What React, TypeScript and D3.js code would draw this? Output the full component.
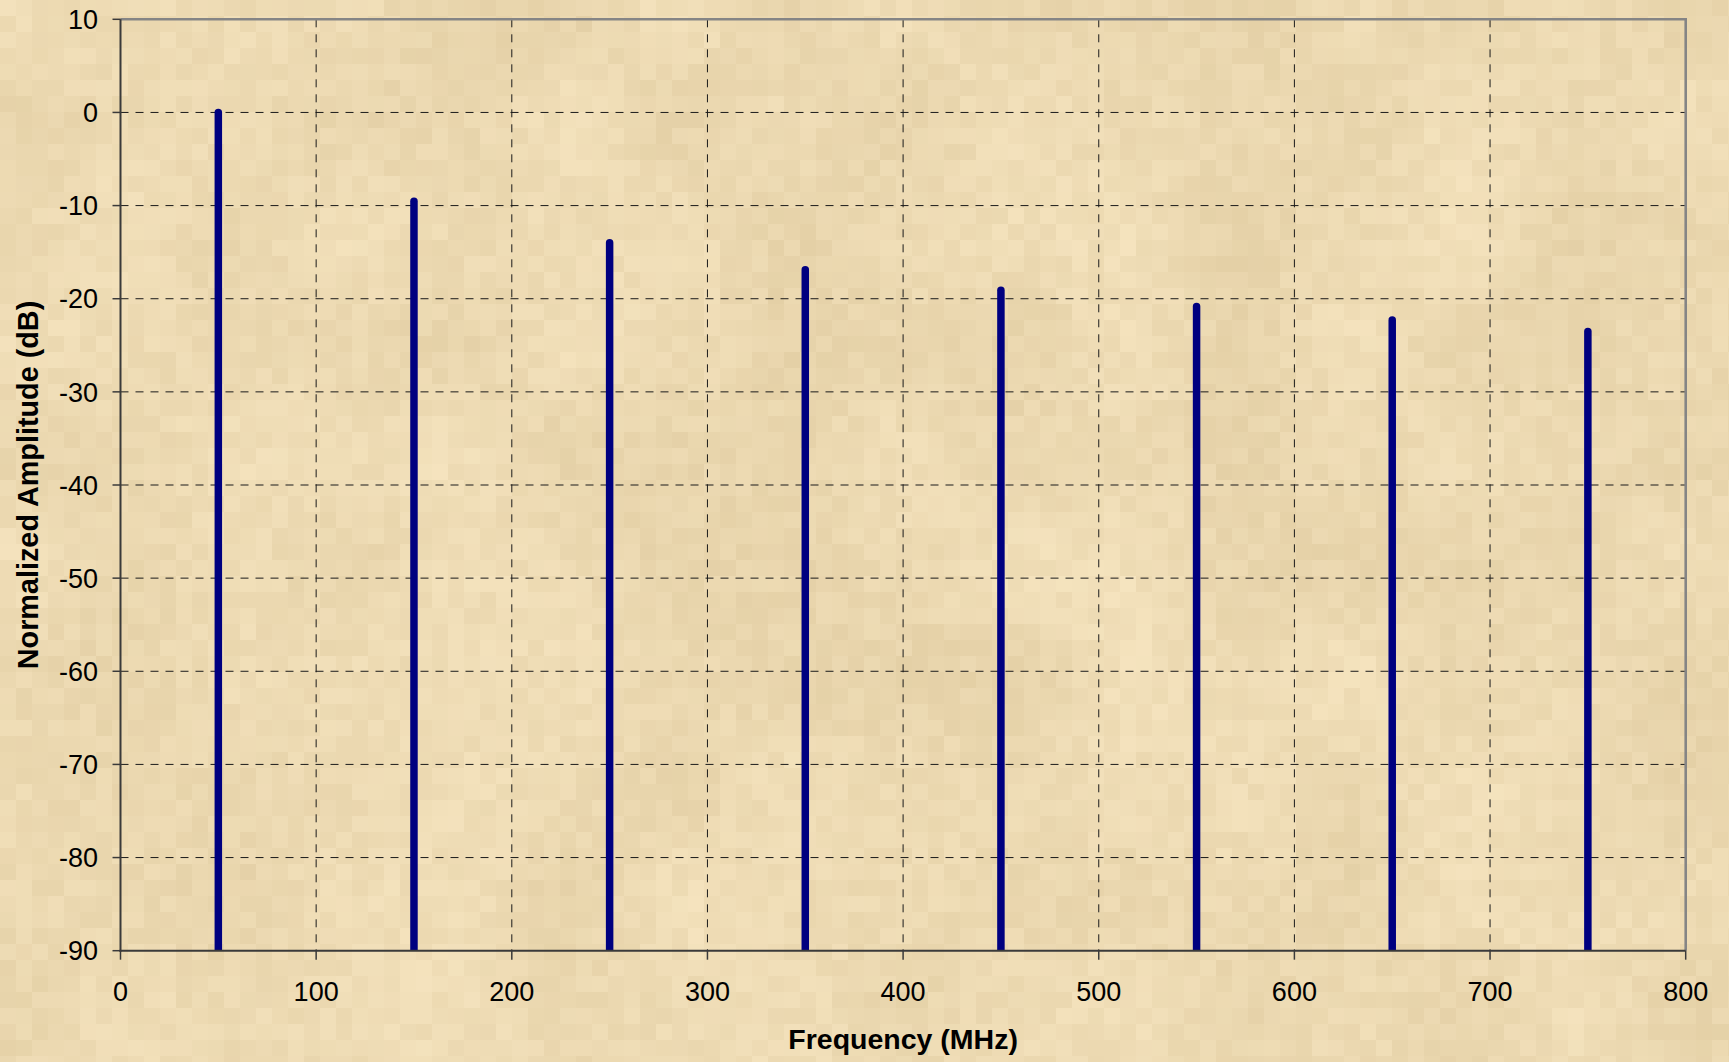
import React, { useMemo } from "react";
import * as d3 from "d3";

// Harmonic spectrum of a 50 MHz square wave (normalized to the fundamental)
const frequencies = [50, 150, 250, 350, 450, 550, 650, 750];
const amplitudes = [0, -9.54, -13.98, -16.9, -19.08, -20.83, -22.28, -23.52];
const xTicks = [0, 100, 200, 300, 400, 500, 600, 700, 800];
const yTicks = [10, 0, -10, -20, -30, -40, -50, -60, -70, -80, -90];

const W = 1729;
const H = 1062;
const M = { left: 120.5, right: 1685.7, top: 19.3, bottom: 950.7 };
const FONT = "'Liberation Sans', Arial, Helvetica, sans-serif";

// deterministic hash for the parchment mosaic
function hash(i: number, j: number) {
  const s = Math.sin(i * 127.1 + j * 311.7) * 43758.5453;
  return s - Math.floor(s);
}

function smooth(i: number, j: number, size: number) {
  const gi = Math.floor(i / size);
  const gj = Math.floor(j / size);
  const fi = (i % size) / size;
  const fj = (j % size) / size;
  const a = hash(gi + 57, gj + 13);
  const b = hash(gi + 58, gj + 13);
  const c = hash(gi + 57, gj + 14);
  const d = hash(gi + 58, gj + 14);
  const u = fi * fi * (3 - 2 * fi);
  const v = fj * fj * (3 - 2 * fj);
  return a * (1 - u) * (1 - v) + b * u * (1 - v) + c * (1 - u) * v + d * u * v;
}

function Parchment() {
  const cells = useMemo(() => {
    const size = 16;
    const light = d3.rgb("#f9e8c4");
    const dark = d3.rgb("#ddc89c");
    const interp = d3.interpolateRgb(light, dark);
    const out: { x: number; y: number; c: string }[] = [];
    for (let j = 0; j * size < H; j++) {
      for (let i = 0; i * size < W; i++) {
        const t = 0.55 * smooth(i, j, 7) + 0.45 * hash(i, j);
        out.push({ x: i * size, y: j * size, c: interp(0.12 + 0.66 * t) });
      }
    }
    return out;
  }, []);
  return (
    <g shapeRendering="crispEdges">
      {cells.map((d, k) => (
        <rect key={k} x={d.x} y={d.y} width={16} height={16} fill={d.c} />
      ))}
    </g>
  );
}

export default function App() {
  const x = d3.scaleLinear().domain([0, 800]).range([M.left, M.right]);
  const y = d3.scaleLinear().domain([-90, 10]).range([M.bottom, M.top]);
  const stem = d3.line<[number, number]>().x((d) => x(d[0])).y((d) => y(d[1]));

  return (
    <svg
      width={W}
      height={H}
      style={{ position: "absolute", left: 0, top: 0, display: "block" }}
      fontFamily={FONT}
    >
      <defs>
        <clipPath id="plotClip">
          <rect x={M.left} y={0} width={M.right - M.left} height={M.bottom} />
        </clipPath>
      </defs>
      <Parchment />

      {/* grid */}
      <g stroke="#1a1a1a" strokeWidth={1} strokeDasharray="8,7" fill="none">
        {yTicks
          .filter((t) => t !== 10 && t !== -90)
          .map((t) => (
            <line key={"gy" + t} x1={M.left} x2={M.right} y1={y(t)} y2={y(t)} />
          ))}
        {xTicks
          .filter((t) => t !== 0 && t !== 800)
          .map((t) => (
            <line key={"gx" + t} x1={x(t)} x2={x(t)} y1={M.top} y2={M.bottom} />
          ))}
      </g>

      {/* frame: top and right in grey */}
      <g fill="none">
        <line x1={M.left} x2={M.right + 1.3} y1={M.top} y2={M.top} stroke="#858585" strokeWidth={2.6} />
        <line x1={M.right} x2={M.right} y1={M.top} y2={M.bottom} stroke="#858585" strokeWidth={2.6} />
      </g>

      {/* stems */}
      <g clipPath="url(#plotClip)">
        {frequencies.map((f, i) => (
          <path
            key={f}
            d={stem([
              [f, -92],
              [f, amplitudes[i]],
            ]) as string}
            stroke="#000080"
            strokeWidth={7.5}
            strokeLinecap="round"
            fill="none"
          />
        ))}
      </g>

      {/* axes */}
      <g stroke="#3a3a3a" strokeWidth={2} fill="none">
        <line x1={M.left} x2={M.left} y1={M.top} y2={M.bottom + 1} />
        <line x1={M.left - 1} x2={M.right} y1={M.bottom} y2={M.bottom} />
        {yTicks.map((t) => (
          <line key={"ty" + t} x1={M.left - 8} x2={M.left} y1={y(t)} y2={y(t)} strokeWidth={1.5} />
        ))}
        {xTicks.map((t) => (
          <line key={"tx" + t} x1={x(t)} x2={x(t)} y1={M.bottom} y2={M.bottom + 9} strokeWidth={1.5} />
        ))}
      </g>

      {/* tick labels */}
      <g fontSize={27} fill="#000">
        {yTicks.map((t) => (
          <text key={"ly" + t} x={98} y={y(t)} dy="0.36em" textAnchor="end">
            {t}
          </text>
        ))}
        {xTicks.map((t) => (
          <text key={"lx" + t} x={x(t)} y={M.bottom + 50} textAnchor="middle">
            {t}
          </text>
        ))}
      </g>

      {/* axis titles */}
      <text
        x={(M.left + M.right) / 2}
        y={1049}
        textAnchor="middle"
        fontSize={28.5}
        fontWeight="bold"
      >
        Frequency (MHz)
      </text>
      <text
        transform={`translate(37.5,${(M.top + M.bottom) / 2}) rotate(-90)`}
        textAnchor="middle"
        fontSize={28.8}
        fontWeight="bold"
      >
        Normalized Amplitude (dB)
      </text>
    </svg>
  );
}
